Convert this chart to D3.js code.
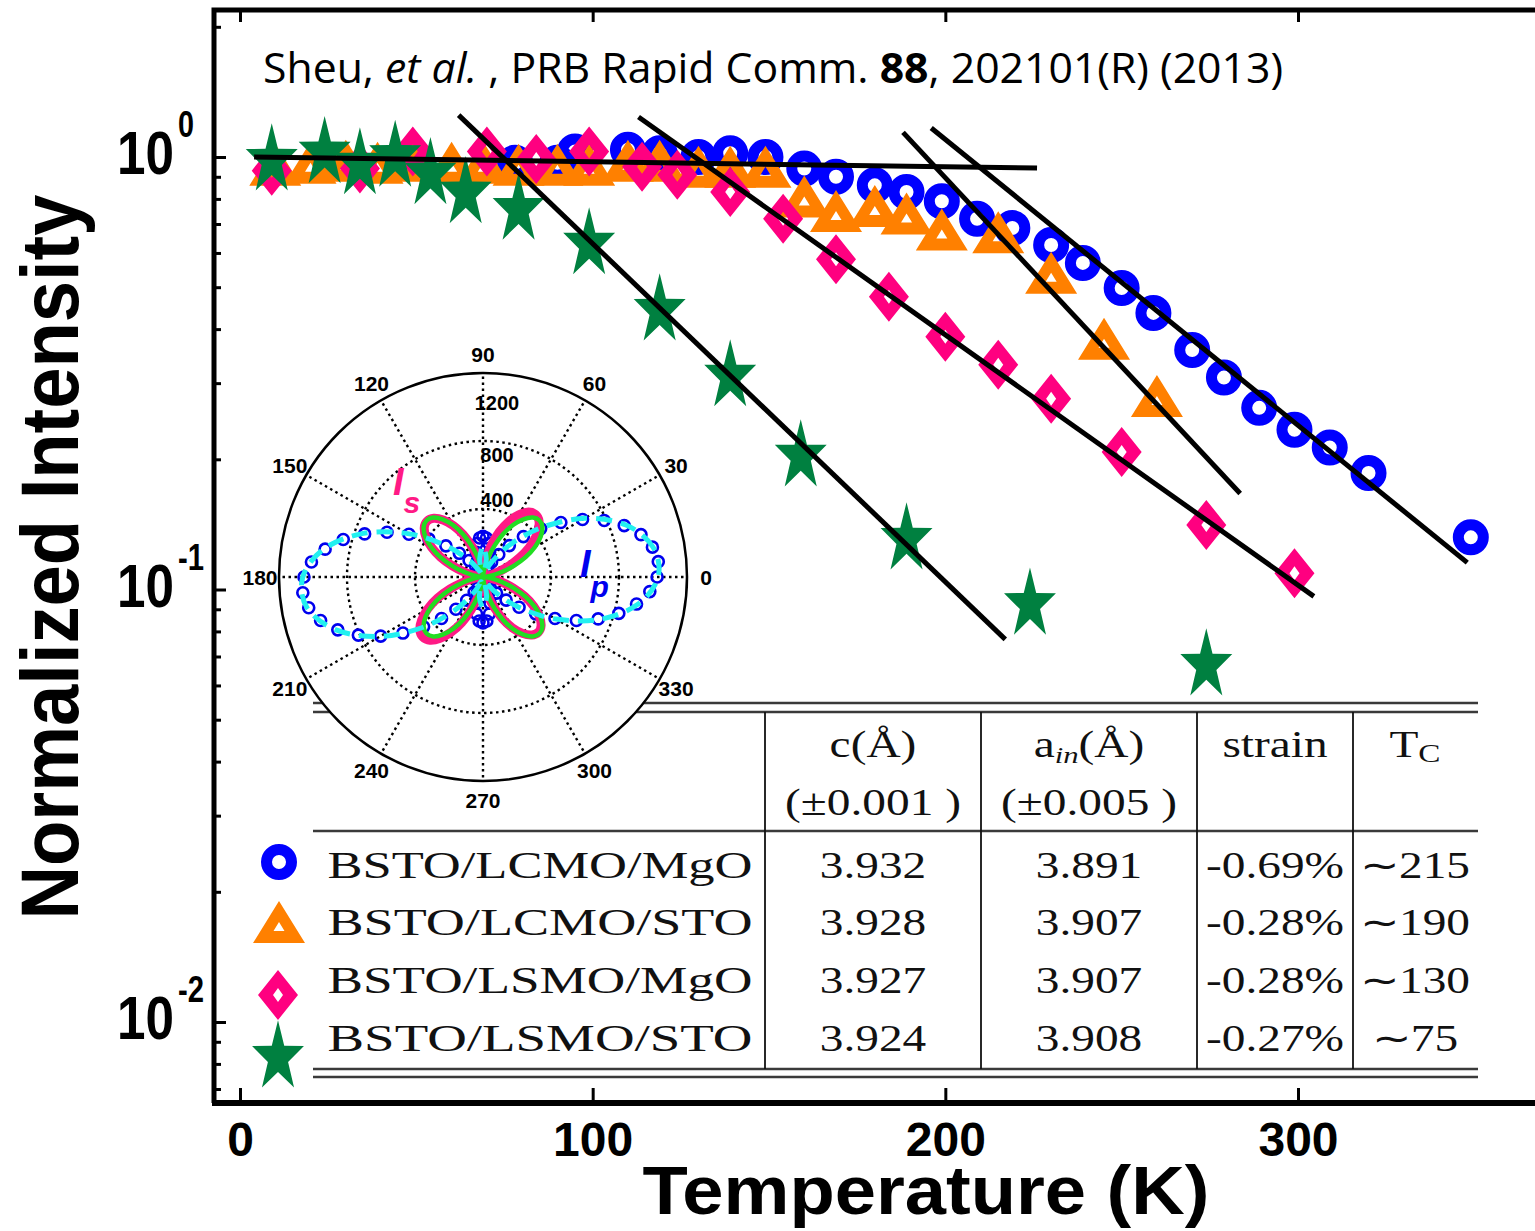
<!DOCTYPE html>
<html>
<head>
<meta charset="utf-8">
<script src="https://cdn.jsdelivr.net/npm/d3@7"></script>
<style>
  body { margin: 0; background: #fff; }
  svg { display: block; }
</style>
</head>
<body>
<svg id="chart" width="1535" height="1231"></svg>
<script>
// ---- main panel data (temperature in K, normalized intensity) ----
const tempLCMO_MgO = [78, 90, 95, 110, 119, 130, 139, 149, 160, 169, 180, 189, 199, 209, 219, 230, 239, 250, 259, 270, 279, 289, 299, 309, 320, 349];
const intLCMO_MgO  = [0.97, 0.97, 1.03, 1.04, 1.02, 1.00, 1.02, 1.00, 0.94, 0.90, 0.86, 0.83, 0.79, 0.72, 0.685, 0.626, 0.569, 0.498, 0.436, 0.358, 0.309, 0.263, 0.234, 0.213, 0.186, 0.132];

const tempLCMO_STO = [10, 20, 30, 39, 49, 60, 69, 79, 90, 99, 110, 119, 130, 139, 149, 160, 169, 180, 189, 199, 215, 230, 245, 260];
const intLCMO_STO  = [0.96, 0.97, 0.98, 0.97, 0.98, 0.97, 0.97, 0.96, 0.96, 0.96, 0.98, 0.98, 0.95, 0.95, 0.95, 0.81, 0.75, 0.77, 0.74, 0.68, 0.67, 0.54, 0.38, 0.28];

const tempLSMO_MgO = [9, 34, 49, 70, 84, 99, 114, 124, 139, 154, 169, 184, 200, 215, 230, 250, 274, 299];
const intLSMO_MgO  = [0.93, 0.94, 1.03, 1.03, 0.99, 1.03, 0.95, 0.91, 0.83, 0.72, 0.58, 0.475, 0.384, 0.331, 0.276, 0.208, 0.141, 0.109];

const tempLSMO_STO = [9, 24, 34, 44, 54, 64, 79, 99, 119, 139, 159, 189, 224, 274];
const intLSMO_STO  = [1.0, 1.04, 0.98, 1.02, 0.93, 0.84, 0.77, 0.64, 0.45, 0.317, 0.207, 0.133, 0.094, 0.068];

// straight guide lines [T, I] start / end
const fitStart = [[4, 1.0], [62, 1.25], [113, 1.237], [188, 1.14], [196, 1.167]];
const fitEnd   = [[226, 0.943], [217, 0.0767], [304.5, 0.0964], [283.6, 0.1667], [348, 0.1154]];

const xTicks = [0, 100, 200, 300];
const yMajor = [1, 0.1, 0.01];
const yExponents = ["0", "-1", "-2"];

// ---- table ----
const sampleNames = ["BSTO/LCMO/MgO", "BSTO/LCMO/STO", "BSTO/LSMO/MgO", "BSTO/LSMO/STO"];
const cValues = ["3.932", "3.928", "3.927", "3.924"];
const aValues = ["3.891", "3.907", "3.907", "3.908"];
const strainValues = ["-0.69%", "-0.28%", "-0.28%", "-0.27%"];
const tcValues = ["\u223C215", "\u223C190", "\u223C130", "\u223C75"];

// ---- polar inset (intensity vs angle) ----
const angles5 = d3.range(0, 360, 5);
const angles10 = d3.range(0, 360, 10);
const ipData = [1024, 1035, 1012, 962, 884, 787, 676, 559, 443, 336, 241, 162, 101, 70, 100, 150, 200, 230,
                240, 230, 200, 150, 100, 60, 45, 75, 127, 197, 285, 388, 503, 623, 741, 851, 943, 1013,
                1053, 1064, 1041, 989, 909, 809, 695, 575, 456, 345, 248, 167, 104, 70, 100, 160, 220, 260,
                270, 260, 220, 160, 100, 60, 45, 73, 124, 192, 277, 378, 489, 606, 721, 827, 917, 985];
const ipFit = [1030, 1015, 895, 690, 455, 250, 100, 30, 110, 180, 110, 30, 40, 130, 290, 510, 750, 950,
               1060, 1050, 915, 700, 460, 250, 100, 30, 120, 180, 120, 30, 40, 125, 280, 495, 730, 925];
const isData = [5, 5, 15, 58, 120, 197, 283, 360, 422, 466, 480, 466, 422, 360, 283, 197, 120, 58,
                15, 14, 56, 116, 191, 274, 349, 409, 451, 465, 451, 409, 349, 274, 191, 116, 56, 14,
                3, 15, 60, 125, 205, 295, 375, 440, 485, 500, 485, 440, 375, 295, 205, 125, 60, 15,
                3, 14, 55, 115, 189, 271, 345, 405, 446, 460, 446, 405, 345, 271, 189, 115, 55, 14];
const isFit = [0, 14, 56, 118, 193, 277, 353, 414, 456, 470, 456, 414, 353, 277, 193, 118, 56, 14,
               0, 14, 56, 118, 193, 277, 353, 414, 456, 470, 456, 414, 353, 277, 193, 118, 56, 14,
               0, 14, 56, 118, 193, 277, 353, 414, 456, 470, 456, 414, 353, 277, 193, 118, 56, 14,
               0, 14, 56, 118, 193, 277, 353, 414, 456, 470, 456, 414, 353, 277, 193, 118, 56, 14];
const polarRings = [400, 800];
const polarSpokes = d3.range(0, 360, 30);

// colours
const cBlue = "#0000ff", cOrange = "#ff8000", cPink = "#ff0080", cGreen = "#008040";

const svg = d3.select("#chart");

// Setup
const x = d3.scaleLinear().domain([0, 300]).range([240, 1298]);
const y = d3.scaleLog().domain([1, 0.01]).range([157, 1022]);
const frame = { left: 214, top: 10, bottom: 1103, right: 1545 };

// marker shapes
function starPath() {
  const R = 27.3, r = 10.6, sy = 1.36, dy = 3.5;
  const pts = d3.range(10).map(i => {
    const a = -Math.PI / 2 + i * Math.PI / 5;
    const rad = i % 2 ? r : R;
    return [rad * Math.cos(a), rad * Math.sin(a) * sy + dy];
  });
  return "M" + pts.join("L") + "Z";
}
const triPath = "M0,-21L26,21L-26,21Z M0,0L5.5,9L-5.5,9Z";
const diaPath = "M0,-25L20,0L0,25L-20,0Z M0,-7L5,0L0,7L-5,0Z";

function drawMarker(g, kind) {
  if (kind === 0) {
    g.append("circle").attr("r", 12.5).attr("fill", "none").attr("stroke", cBlue).attr("stroke-width", 11);
  } else if (kind === 1) {
    g.append("path").attr("d", triPath).attr("fill", cOrange).attr("fill-rule", "evenodd");
  } else if (kind === 2) {
    g.append("path").attr("d", diaPath).attr("fill", cPink).attr("fill-rule", "evenodd");
  } else {
    g.append("path").attr("d", starPath()).attr("fill", cGreen);
  }
}

// data points
const seriesList = [
  [tempLCMO_MgO, intLCMO_MgO],
  [tempLCMO_STO, intLCMO_STO],
  [tempLSMO_MgO, intLSMO_MgO],
  [tempLSMO_STO, intLSMO_STO]
];
seriesList.forEach(([ts, vs], k) => {
  const pts = ts.map((t, i) => ({ t, v: vs[i] }));
  svg.append("g").selectAll("g").data(pts).join("g")
    .attr("transform", d => `translate(${x(d.t)},${y(d.v)})`)
    .each(function () { drawMarker(d3.select(this), k); });
});

// guide lines
svg.append("g").selectAll("line").data(d3.zip(fitStart, fitEnd)).join("line")
  .attr("x1", d => x(d[0][0])).attr("y1", d => y(d[0][1]))
  .attr("x2", d => x(d[1][0])).attr("y2", d => y(d[1][1]))
  .attr("stroke", "#000").attr("stroke-width", 5);

// axes frame
svg.append("path")
  .attr("d", `M${frame.left},${frame.bottom}V${frame.top}H${frame.right}`)
  .attr("fill", "none").attr("stroke", "#000").attr("stroke-width", 5);
svg.append("path")
  .attr("d", `M${frame.left - 2},${frame.bottom}H${frame.right}`)
  .attr("stroke", "#000").attr("stroke-width", 6);

// y ticks (inward)
const yExt = y.copy().domain([y.invert(frame.bottom), y.invert(frame.top)]);
const yMinor = yExt.ticks().filter(v => !yMajor.some(m => Math.abs(m - v) < 1e-9));
svg.append("g").attr("transform", `translate(${frame.left + 2},0)`)
  .call(d3.axisRight(y).tickValues(yMinor).tickSize(5).tickFormat(""))
  .call(g => g.select(".domain").remove())
  .selectAll("line").attr("stroke-width", 3);
svg.append("g").attr("transform", `translate(${frame.left + 2},0)`)
  .call(d3.axisRight(y).tickValues(yMajor).tickSize(10).tickFormat(""))
  .call(g => g.select(".domain").remove())
  .selectAll("line").attr("stroke-width", 3);

// y tick labels 10^n
const yLab = svg.append("g").attr("font-family", "Liberation Sans, Arial, sans-serif").attr("font-weight", "bold");
yMajor.forEach((v, i) => {
  yLab.append("text").attr("x", 174).attr("y", y(v) + 17).attr("text-anchor", "end")
    .attr("font-size", 62).attr("textLength", 57).attr("lengthAdjust", "spacingAndGlyphs").text("10");
  yLab.append("text").attr("x", 178).attr("y", y(v) - 20)
    .attr("font-size", 36).attr("textLength", yExponents[i].length > 1 ? 26 : 16)
    .attr("lengthAdjust", "spacingAndGlyphs").text(yExponents[i]);
});

// x ticks (bottom, inward) and top ticks
svg.append("g").attr("transform", `translate(0,${frame.bottom - 2})`)
  .call(d3.axisTop(x).tickValues(xTicks).tickSize(13).tickFormat(""))
  .call(g => g.select(".domain").remove())
  .selectAll("line").attr("stroke-width", 3);
svg.append("g").attr("transform", `translate(0,${frame.top + 2})`)
  .call(d3.axisBottom(x).tickValues(xTicks).tickSize(10).tickFormat(""))
  .call(g => g.select(".domain").remove())
  .selectAll("line").attr("stroke-width", 3);
svg.append("g").attr("transform", `translate(0,${frame.bottom})`)
  .call(d3.axisBottom(x).tickValues(xTicks).tickSize(0).tickPadding(53).tickFormat(d3.format("d")))
  .call(g => g.select(".domain").remove())
  .selectAll("text")
  .attr("font-family", "Liberation Sans, Arial, sans-serif").attr("font-weight", "bold")
  .attr("font-size", 48).attr("fill", "#000").attr("dy", 0);

// axis titles
svg.append("text")
  .attr("transform", "translate(78,557) rotate(-90)")
  .attr("text-anchor", "middle")
  .attr("font-family", "Liberation Sans, Arial, sans-serif").attr("font-weight", "bold")
  .attr("font-size", 82).attr("textLength", 725).attr("lengthAdjust", "spacingAndGlyphs")
  .text("Normalized Intensity");
svg.append("text")
  .attr("x", 926).attr("y", 1214).attr("text-anchor", "middle")
  .attr("font-family", "Liberation Sans, Arial, sans-serif").attr("font-weight", "bold")
  .attr("font-size", 68).attr("textLength", 567).attr("lengthAdjust", "spacingAndGlyphs")
  .text("Temperature (K)");

// citation
const cite = svg.append("text").attr("x", 263).attr("y", 83)
  .attr("font-family", "Open Sans, Lato, sans-serif").attr("font-size", 42)
  .attr("textLength", 1020).attr("lengthAdjust", "spacingAndGlyphs");
cite.append("tspan").text("Sheu, ");
cite.append("tspan").attr("font-style", "italic").text("et al.");
cite.append("tspan").text(" , PRB Rapid Comm. ");
cite.append("tspan").attr("font-weight", "bold").text("88");
cite.append("tspan").text(", 202101(R) (2013)");

// ---- table ----
const tbl = svg.append("g");
const ruleColor = "#3a3a3a";
const tL = 313, tR = 1478;
[703, 712, 831, 1069, 1077].forEach(yy => {
  tbl.append("line").attr("x1", tL).attr("x2", tR).attr("y1", yy).attr("y2", yy)
    .attr("stroke", ruleColor).attr("stroke-width", 2.5);
});
[765, 981, 1197, 1353].forEach(xx => {
  tbl.append("line").attr("x1", xx).attr("x2", xx).attr("y1", 712).attr("y2", 1069)
    .attr("stroke", "#111").attr("stroke-width", 1.8);
});
const colCenters = [873, 1089, 1275, 1415];
const rowBase = [878, 935, 993, 1051];
const serif = "Liberation Serif, Times New Roman, serif";
function cell(cx, by, build, fs) {
  const t = tbl.append("text")
    .attr("transform", `translate(${cx},${by}) scale(1.28,1)`)
    .attr("text-anchor", "middle").attr("font-family", serif).attr("font-size", fs || 37).attr("fill", "#111");
  build(t);
  return t;
}
cell(colCenters[0], 757, t => t.text("c(\u00C5)"));
cell(colCenters[1], 757, t => {
  t.append("tspan").text("a");
  t.append("tspan").attr("font-size", 24).attr("font-style", "italic").attr("dy", 6).text("in");
  t.append("tspan").attr("dy", -6).text("(\u00C5)");
});
cell(colCenters[2], 757, t => t.text("strain"));
cell(colCenters[3], 757, t => {
  t.append("tspan").text("T");
  t.append("tspan").attr("font-size", 26).attr("dy", 5).text("C");
});
cell(colCenters[0], 815, t => t.text("(\u00B10.001 )"));
cell(colCenters[1], 815, t => t.text("(\u00B10.005 )"));
sampleNames.forEach((name, i) => {
  tbl.append("text").attr("x", 540).attr("y", rowBase[i]).attr("text-anchor", "middle")
    .attr("font-family", serif).attr("font-size", 38).attr("fill", "#111")
    .attr("textLength", 425).attr("lengthAdjust", "spacingAndGlyphs").text(name);
  cell(colCenters[0], rowBase[i], t => t.text(cValues[i]));
  cell(colCenters[1], rowBase[i], t => t.text(aValues[i]));
  cell(colCenters[2], rowBase[i], t => t.text(strainValues[i]));
  cell(colCenters[3], rowBase[i], t => t.text(tcValues[i]));
});
// legend markers
const legendPos = [[279, 862], [279, 922], [278, 995], [278, 1054]];
legendPos.forEach((p, k) => {
  drawMarker(svg.append("g").attr("transform", `translate(${p[0]},${p[1]})`), k);
});

// ---- polar inset ----
const pc = { x: 483, y: 577 };
const r = d3.scaleLinear().domain([0, 1200]).range([0, 204]);
const toRad = deg => (90 - deg) * Math.PI / 180;
const polar = svg.append("g").attr("transform", `translate(${pc.x},${pc.y})`);
polar.append("circle").attr("r", r(1200)).attr("fill", "#fff");
const dotted = "2.5,3.5";
polar.selectAll(".ring").data(polarRings).join("circle").attr("class", "ring")
  .attr("r", d => r(d)).attr("fill", "none").attr("stroke", "#000")
  .attr("stroke-width", 2.4).attr("stroke-dasharray", dotted);
polar.selectAll(".spoke").data(polarSpokes).join("line").attr("class", "spoke")
  .attr("x1", 0).attr("y1", 0)
  .attr("x2", d => d3.pointRadial(toRad(d), r(1200))[0])
  .attr("y2", d => d3.pointRadial(toRad(d), r(1200))[1])
  .attr("stroke", "#000").attr("stroke-width", 2.4).attr("stroke-dasharray", dotted);
polar.append("circle").attr("r", r(1200)).attr("fill", "none").attr("stroke", "#000").attr("stroke-width", 2.5);

// Ip data (open blue circles)
polar.selectAll(".ip").data(angles5.map((a, i) => [a, ipData[i]])).join("circle").attr("class", "ip")
  .attr("cx", d => d3.pointRadial(toRad(d[0]), r(d[1]))[0])
  .attr("cy", d => d3.pointRadial(toRad(d[0]), r(d[1]))[1])
  .attr("r", 5.5).attr("fill", "none").attr("stroke", "#0000ee").attr("stroke-width", 2.6);

const radial = d3.lineRadial().angle(d => toRad(d[0])).radius(d => r(d[1])).curve(d3.curveCardinalClosed);
// Is data (pink), Is fit (green), Ip fit (cyan dashed)
polar.append("path").datum(angles5.map((a, i) => [a, isData[i]]))
  .attr("d", radial).attr("fill", "none").attr("stroke", "#ff1a85").attr("stroke-width", 9)
  .attr("stroke-linejoin", "round");
polar.append("path").datum(angles5.map((a, i) => [a, isFit[i]]))
  .attr("d", radial).attr("fill", "none").attr("stroke", "#22dd22").attr("stroke-width", 4.5);
polar.append("path").datum(angles10.map((a, i) => [a, ipFit[i]]))
  .attr("d", radial).attr("fill", "none").attr("stroke", "#22f0f0").attr("stroke-width", 5)
  .attr("stroke-dasharray", "16,9");

// polar labels
const pFont = "Liberation Sans, Arial, sans-serif";
polar.selectAll(".alab").data(polarSpokes).join("text").attr("class", "alab")
  .attr("x", d => d3.pointRadial(toRad(d), 223)[0])
  .attr("y", d => d3.pointRadial(toRad(d), 223)[1])
  .attr("text-anchor", "middle").attr("dy", "0.36em")
  .attr("font-family", pFont).attr("font-weight", "bold").attr("font-size", 21)
  .text(d => d);
const ringLabelBase = [[400, -70], [800, -115], [1200, -167]];
ringLabelBase.forEach(([v, by]) => {
  polar.append("text").attr("x", 14).attr("y", by).attr("text-anchor", "middle")
    .attr("font-family", pFont).attr("font-weight", "bold").attr("font-size", 20).text(v);
});
// Is / Ip labels
const isLab = polar.append("text").attr("x", -90).attr("y", -82)
  .attr("font-family", pFont).attr("font-weight", "bold").attr("font-style", "italic")
  .attr("font-size", 38).attr("fill", "#ff1a85");
isLab.append("tspan").text("I");
isLab.append("tspan").attr("font-size", 30).attr("dy", 18).text("s");
const ipLab = polar.append("text").attr("x", 97).attr("y", 0)
  .attr("font-family", pFont).attr("font-weight", "bold").attr("font-style", "italic")
  .attr("font-size", 38).attr("fill", "#0000ee");
ipLab.append("tspan").text("I");
ipLab.append("tspan").attr("font-size", 30).attr("dy", 20).text("p");
</script>
</body>
</html>
